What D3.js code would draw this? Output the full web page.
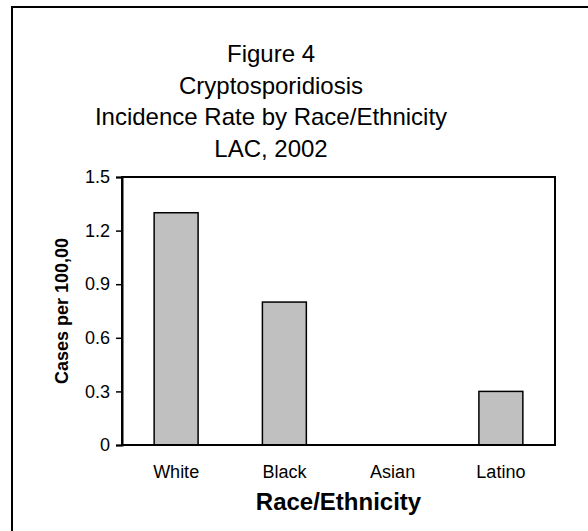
<!DOCTYPE html>
<meta charset="utf-8">
<style>
body {
  margin: 0;
  padding: 0;
  background: #fff;
}
svg {
  display: block;
  font-family: "Liberation Sans", Arial, sans-serif;
}
.tick text {
  fill: #000;
}
</style>
<body>
<script src="https://d3js.org/d3.v7.min.js"></script>
<script>

var categories = ["White", "Black", "Asian", "Latino"];
var rates = [1.3, 0.8, 0, 0.3];
var yTicks = [0, 0.3, 0.6, 0.9, 1.2, 1.5];
var titleLines = ["Figure 4", "Cryptosporidiosis", "Incidence Rate by Race/Ethnicity", "LAC, 2002"];

var width = 588,
    height = 531;

var plot = {left: 122, right: 555, top: 177, bottom: 445};
var font = '"Liberation Sans", Arial, sans-serif';

var svg = d3.select("body").append("svg")
    .attr("width", width)
    .attr("height", height);

// outer frame, right and bottom run off the picture
svg.append("rect")
    .attr("x", 12)
    .attr("y", 7)
    .attr("width", 600)
    .attr("height", 600)
    .attr("fill", "none")
    .attr("stroke", "#000")
    .attr("stroke-width", 2);

// title
svg.append("g").selectAll("text")
    .data(titleLines)
  .enter().append("text")
    .attr("x", 271)
    .attr("y", function(d, i) { return 62 + i * 31.7; })
    .attr("text-anchor", "middle")
    .style("font-size", "24px")
    .text(function(d) { return d; });

var x = d3.scaleBand()
    .domain(categories)
    .range([plot.left, plot.right])
    .paddingInner(0.594)
    .paddingOuter(0.297);

var y = d3.scaleLinear()
    .domain([0, 1.5])
    .range([plot.bottom, plot.top]);

// bars (Asian is zero, nothing drawn)
svg.append("g").selectAll("rect")
    .data(categories.map(function(c, i) { return {cat: c, value: rates[i]}; })
      .filter(function(d) { return d.value > 0; }))
  .enter().append("rect")
    .attr("x", function(d) { return x(d.cat); })
    .attr("y", function(d) { return y(d.value); })
    .attr("width", x.bandwidth())
    .attr("height", function(d) { return y(0) - y(d.value); })
    .attr("fill", "#c0c0c0")
    .attr("stroke", "#000")
    .attr("stroke-width", 1.5);

// plot frame
svg.append("rect")
    .attr("x", plot.left)
    .attr("y", plot.top)
    .attr("width", plot.right - plot.left)
    .attr("height", plot.bottom - plot.top)
    .attr("fill", "none")
    .attr("stroke", "#000")
    .attr("stroke-width", 2);

// y axis
var yAxis = svg.append("g")
    .attr("transform", "translate(" + plot.left + ",0)")
    .call(d3.axisLeft(y)
      .tickValues(yTicks)
      .tickSize(6)
      .tickPadding(6)
      .tickFormat(function(d) { return d === 0 ? "0" : d3.format(".1f")(d); }));
yAxis.selectAll("text")
    .style("font-family", font)
    .style("font-size", "18px");
yAxis.select(".domain").attr("stroke-width", 2);
yAxis.selectAll(".tick line").attr("stroke-width", 1.5);

// x axis labels
var xAxis = svg.append("g")
    .attr("transform", "translate(0," + plot.bottom + ")")
    .call(d3.axisBottom(x).tickSize(0).tickPadding(20));
xAxis.selectAll("text")
    .style("font-family", font)
    .style("font-size", "18px");
xAxis.select(".domain").remove();

svg.append("text")
    .attr("x", (plot.left + plot.right) / 2)
    .attr("y", 510)
    .attr("text-anchor", "middle")
    .style("font-size", "24px")
    .style("font-weight", "bold")
    .text("Race/Ethnicity");

svg.append("text")
    .attr("transform", "translate(68," + (plot.top + plot.bottom) / 2 + ") rotate(-90)")
    .attr("text-anchor", "middle")
    .style("font-size", "18px")
    .style("font-weight", "bold")
    .text("Cases per 100,00");

</script>
